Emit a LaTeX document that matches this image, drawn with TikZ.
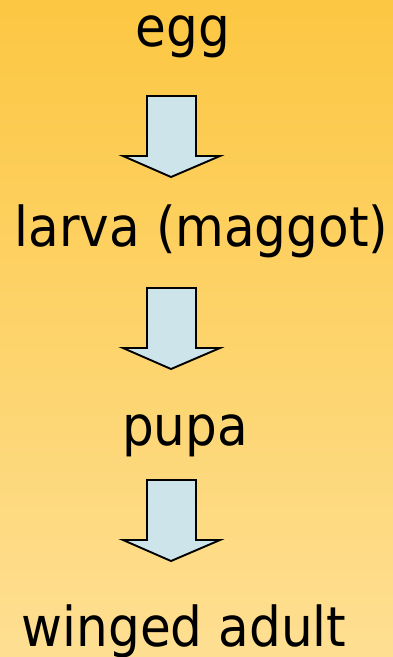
\documentclass[tikz,border=0pt]{standalone}
\usepackage{fontspec}
\setmainfont{DejaVu Sans}
\definecolor{bgtop}{RGB}{252,199,66}
\definecolor{bgbot}{RGB}{254,223,146}
\definecolor{arrowfill}{RGB}{205,229,234}
\newcommand{\lbltext}[1]{\scalebox{0.91}[1]{#1}}
\begin{document}
\begin{tikzpicture}[x=1pt,y=-1pt,
  lbl/.style={anchor=base,inner sep=0pt,font=\fontsize{55}{64}\selectfont},
  blockarrow/.style={draw=black,line width=1.9pt,fill=arrowfill,line join=miter}]
\shade[top color=bgtop,bottom color=bgbot] (0,0) rectangle (393,657);
\useasboundingbox (0,0) rectangle (393,657);
\node[lbl] (egg) at (183,46) {\lbltext{egg}};
\node[lbl] (larva) at (201.5,246) {\lbltext{larva (maggot)}};
\node[lbl] (pupa) at (185,445) {\lbltext{pupa}};
\node[lbl] (adult) at (184,646) {\lbltext{winged adult}};
\foreach \t/\n in {96/a1,288/a2,480/a3}{
  \draw[blockarrow] (147,\t) -- (196,\t) -- (196,\t+60) -- (220,\t+60) -- (171,\t+81) -- (123,\t+60) -- (147,\t+60) -- cycle;
}
\end{tikzpicture}
\end{document}
